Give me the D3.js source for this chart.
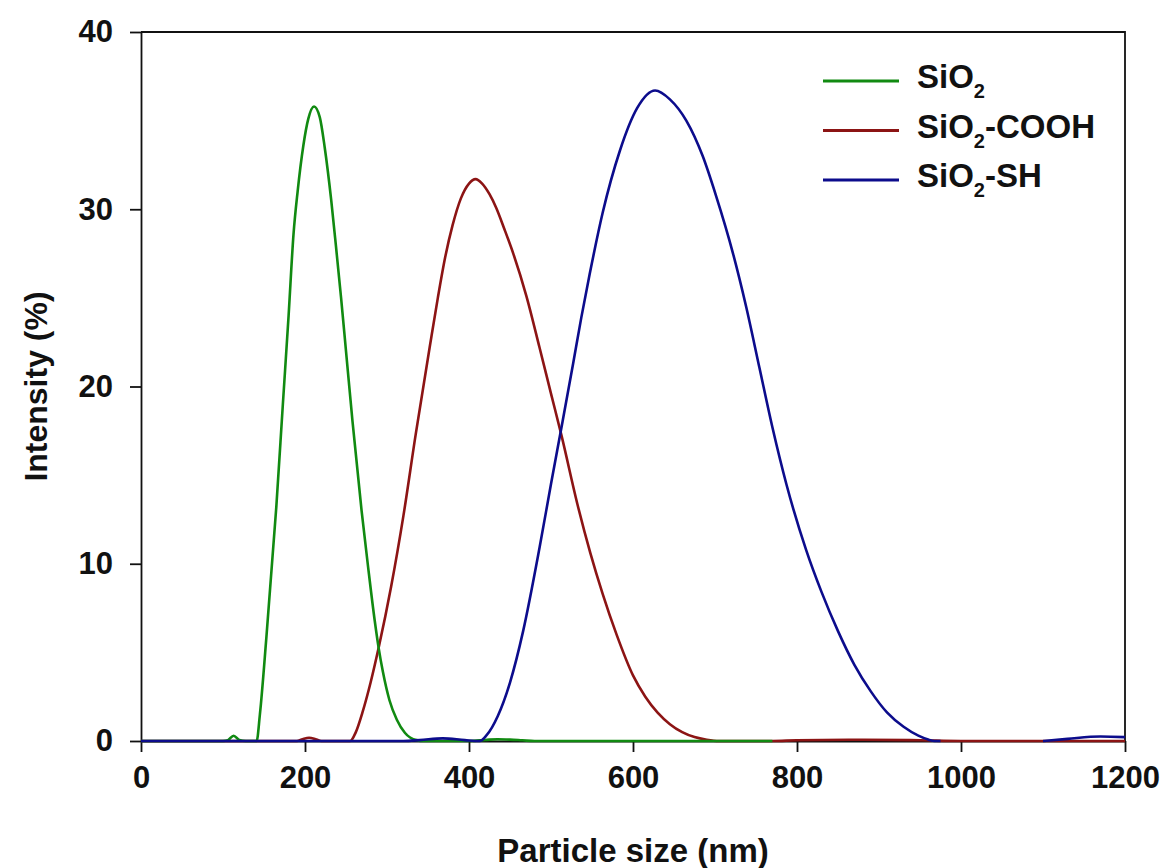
<!DOCTYPE html>
<html>
<head>
<meta charset="utf-8">
<script src="https://cdn.jsdelivr.net/npm/d3@7"></script>
<style>
  body { margin: 0; background: #fff; }
  svg text { font-family: "Liberation Sans", Arial, sans-serif; font-weight: bold; fill: #111; }
  .axis path, .axis line { stroke: #111; stroke-width: 1.8; }
</style>
</head>
<body>
<svg id="chart" width="1164" height="868"></svg>
<script>
// particle size (nm) / intensity (%)
const sio2X = [0, 100, 106, 113, 120, 128, 141, 145, 153, 165, 173, 180, 186, 191, 198, 204, 211, 218, 224, 232, 238, 244, 250, 258, 269, 277, 285, 290, 295, 303, 312, 322, 336, 345, 400, 420, 435, 450, 465, 480, 600, 770];
const sio2Y = [0, 0, 0.05, 0.3, 0.05, 0, 0, 1.5, 5.9, 13.2, 19, 24, 28.6, 31, 33.6, 35.1, 35.8, 35.2, 33.5, 30.5, 27.8, 25, 22, 18, 13, 9.8, 6.8, 5.2, 3.9, 2.3, 1.2, 0.45, 0.05, 0, 0, 0.06, 0.1, 0.08, 0.04, 0, 0, 0];

const coohX = [0, 190, 197, 205, 213, 220, 255, 262, 270, 280, 290, 305, 320, 335, 352, 362, 371, 380, 390, 400, 408, 416, 425, 433, 443, 454, 470, 486, 500, 513, 532, 548, 563, 580, 600, 615, 630, 645, 660, 675, 690, 705, 770, 800, 880, 950, 1000, 1200];
const coohY = [0, 0, 0.1, 0.18, 0.1, 0, 0, 0.5, 1.6, 3.3, 5.3, 8.7, 12.7, 17.3, 22.2, 25, 27.3, 29.1, 30.6, 31.45, 31.7, 31.45, 30.85, 30.1, 28.9, 27.5, 25.1, 22.2, 19.6, 17.2, 13.4, 10.6, 8.3, 6, 3.7, 2.5, 1.6, 0.95, 0.5, 0.22, 0.07, 0, 0, 0.04, 0.07, 0.04, 0, 0];

// gap (null) where the picture shows no blue trace
const shX = [0, 320, 340, 368, 395, 413, 421, 435, 450, 466, 486, 500, 514, 527, 537, 547, 563, 584, 605, 627, 645, 665, 685, 701, 722, 738, 754, 770, 787, 811, 830, 850, 870, 890, 910, 930, 948, 960, 968, 975, 1095, 1100, 1130, 1170, 1200];
const shY = [0, 0, 0.05, 0.15, 0.05, 0, 0.3, 1.4, 3.3, 6.2, 10.9, 14.5, 18, 21.3, 23.9, 26.3, 29.8, 33.3, 35.7, 36.7, 36.2, 35, 33, 30.8, 27.5, 24.5, 21.1, 17.7, 14.5, 10.8, 8.4, 6.2, 4.3, 2.8, 1.6, 0.8, 0.3, 0.08, 0, 0, null, 0, 0.12, 0.25, 0.22];

const xTicks = [0, 200, 400, 600, 800, 1000, 1200];
const yTicks = [0, 10, 20, 30, 40];

const series = [
  { name: "-COOH", xs: coohX, ys: coohY, color: "#8c1414" },
  { name: "", xs: sio2X, ys: sio2Y, color: "#118a11" },
  { name: "-SH", xs: shX, ys: shY, color: "#0c0c8c" }
];
const legendOrder = [1, 0, 2];

const svg = d3.select("#chart");
const mLeft = 141, mRight = 1125, mTop = 32, mBottom = 741;

const x = d3.scaleLinear().domain([0, 1200]).range([mLeft, mRight]);
const y = d3.scaleLinear().domain([0, 40]).range([mBottom, mTop]);

// frame top + right
svg.append("path")
  .attr("d", `M${mLeft},${mTop}H${mRight}V${mBottom}`)
  .attr("fill", "none")
  .attr("stroke", "#111")
  .attr("stroke-width", 1.8);

const xAxis = svg.append("g")
  .attr("class", "axis")
  .attr("transform", `translate(0,${mBottom})`)
  .call(d3.axisBottom(x).tickValues(xTicks).tickFormat(d3.format("d"))
    .tickSize(11).tickPadding(14).tickSizeOuter(0));
xAxis.selectAll("text").attr("font-size", 31).attr("dy", "0.71em");

const yAxis = svg.append("g")
  .attr("class", "axis")
  .attr("transform", `translate(${mLeft},0)`)
  .call(d3.axisLeft(y).tickValues(yTicks).tickFormat(d3.format("d"))
    .tickSize(11).tickPadding(17).tickSizeOuter(0));
yAxis.selectAll("text").attr("font-size", 31);

const line = d3.line()
  .defined(d => d[1] !== null)
  .x(d => x(d[0]))
  .y(d => y(d[1]))
  .curve(d3.curveMonotoneX);

series.forEach(s => {
  svg.append("path")
    .datum(d3.zip(s.xs, s.ys))
    .attr("d", line)
    .attr("fill", "none")
    .attr("stroke", s.color)
    .attr("stroke-width", 2.6);
});

// legend
legendOrder.forEach((k, i) => {
  const s = series[k];
  const ly = 81 + i * 49.5;
  svg.append("line")
    .attr("x1", 823).attr("x2", 899)
    .attr("y1", ly).attr("y2", ly)
    .attr("stroke", s.color)
    .attr("stroke-width", 2.8);
  const t = svg.append("text")
    .attr("x", 917)
    .attr("y", ly + 7)
    .attr("font-size", 33);
  t.append("tspan").text("SiO");
  t.append("tspan").text("2").attr("font-size", 20).attr("dy", 10);
  if (s.name) t.append("tspan").text(s.name).attr("dy", -10);
});

// axis titles
svg.append("text")
  .attr("x", (mLeft + mRight) / 2)
  .attr("y", 862)
  .attr("text-anchor", "middle")
  .attr("font-size", 33)
  .text("Particle size (nm)");

svg.append("text")
  .attr("transform", `translate(47,${(mTop + mBottom) / 2}) rotate(-90)`)
  .attr("text-anchor", "middle")
  .attr("font-size", 32)
  .text("Intensity (%)");
</script>
</body>
</html>
